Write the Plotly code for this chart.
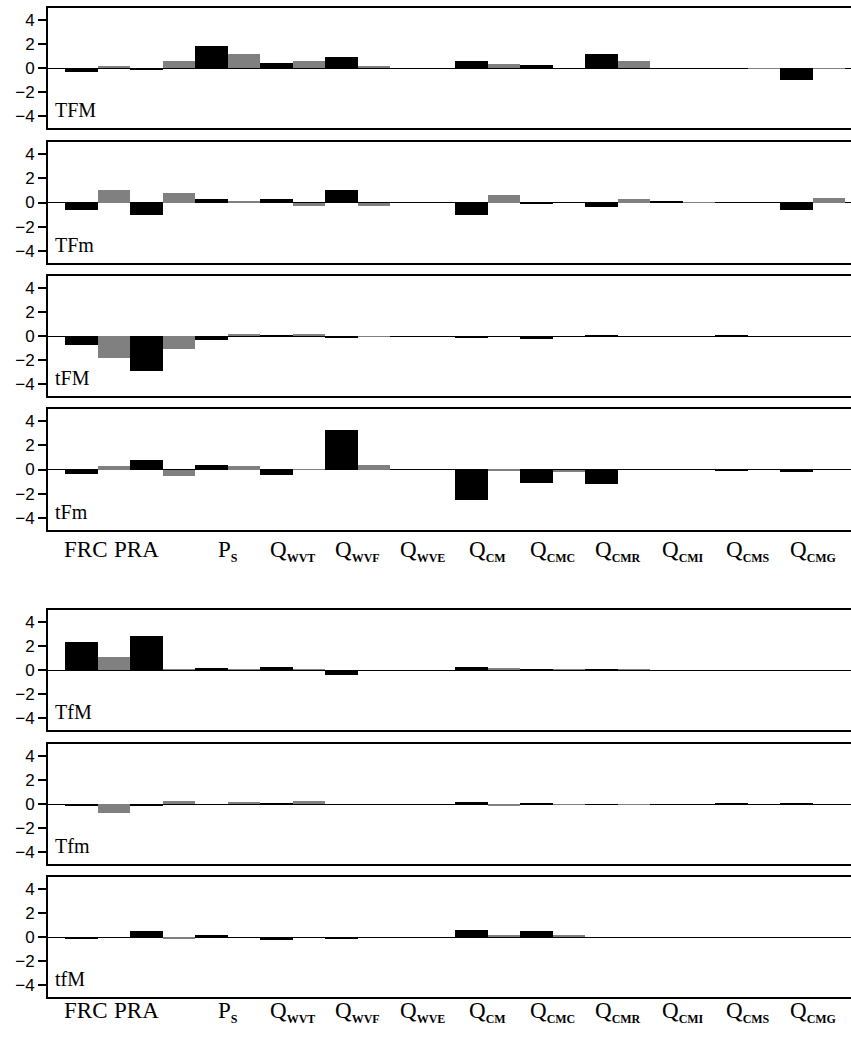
import plotly.graph_objects as go
from plotly.subplots import make_subplots

# Budget terms (x categories) and their rendered labels
categories = ["FRC", "PRA", "PS", "QWVT", "QWVF", "QWVE",
              "QCM", "QCMC", "QCMR", "QCMI", "QCMS", "QCMG"]


def sub(base, s):
    return base + '<sub><b><span style="font-size:12px">' + s + '</span></b></sub>'


tick_labels = ["FRC", "PRA", sub("P", "S"), sub("Q", "WVT"), sub("Q", "WVF"),
               sub("Q", "WVE"), sub("Q", "CM"), sub("Q", "CMC"), sub("Q", "CMR"),
               sub("Q", "CMI"), sub("Q", "CMS"), sub("Q", "CMG")]

panel_names = ["TFM", "TFm", "tFM", "tFm", "TfM", "Tfm", "tfM"]

# first series (black)
TFM_a = [-0.35, -0.10, 1.87, 0.38, 0.88, 0.0, 0.60, 0.28, 1.18, 0.0, 0.0, -0.96]
TFm_a = [-0.66, -1.00, 0.25, 0.33, 1.00, 0.0, -1.07, -0.14, -0.41, 0.08, 0.0, -0.58]
tFM_a = [-0.74, -2.90, -0.33, 0.04, -0.14, 0.0, -0.17, -0.25, 0.08, -0.05, 0.05, -0.05]
tFm_a = [-0.36, 0.80, 0.39, -0.44, 3.28, 0.0, -2.50, -1.10, -1.18, 0.0, -0.08, -0.17]
TfM_a = [2.31, 2.81, 0.17, 0.25, -0.39, 0.0, 0.25, 0.06, 0.05, 0.0, 0.0, 0.0]
Tfm_a = [-0.15, -0.15, -0.05, 0.05, -0.08, 0.0, 0.14, 0.03, 0.0, 0.0, 0.03, 0.03]
tfM_a = [-0.20, 0.50, 0.11, -0.28, -0.19, 0.0, 0.55, 0.47, 0.0, 0.0, 0.0, 0.0]

# second series (gray)
TFM_b = [0.20, 0.60, 1.20, 0.60, 0.20, 0.0, 0.36, 0.0, 0.60, 0.0, -0.03, -0.05]
TFm_b = [1.00, 0.77, 0.15, -0.25, -0.33, 0.0, 0.66, 0.0, 0.33, 0.02, 0.0, 0.41]
tFM_b = [-1.82, -1.07, 0.15, 0.15, -0.03, 0.0, 0.0, 0.0, 0.0, 0.0, 0.0, 0.0]
tFm_b = [0.25, -0.52, 0.25, -0.03, 0.39, 0.0, -0.08, -0.17, 0.0, 0.0, 0.0, 0.0]
TfM_b = [1.05, 0.03, 0.05, 0.02, 0.0, 0.0, 0.14, 0.03, 0.03, 0.0, 0.0, 0.0]
Tfm_b = [-0.74, 0.22, 0.12, 0.22, 0.0, 0.0, -0.15, -0.03, -0.03, 0.0, 0.0, 0.0]
tfM_b = [0.0, -0.19, 0.0, 0.0, 0.0, 0.0, 0.10, 0.10, 0.0, 0.0, 0.0, 0.0]

series_a = [TFM_a, TFm_a, tFM_a, tFm_a, TfM_a, Tfm_a, tfM_a]
series_b = [TFM_b, TFm_b, tFM_b, tFm_b, TfM_b, Tfm_b, tfM_b]

W, H = 851, 1037
LEFT = 48
# panel (top, bottom) in pixels
panels_px = [(8, 128), (142, 263), (276, 396), (409, 530),
             (610, 730), (744, 864), (877, 997)]

fig = make_subplots(rows=7, cols=1)

for i, (a, b) in enumerate(zip(series_a, series_b)):
    r = i + 1
    fig.add_trace(go.Bar(x=categories, y=a, marker=dict(color="#000000", line=dict(width=0)),
                         showlegend=False), row=r, col=1)
    fig.add_trace(go.Bar(x=categories, y=b, marker=dict(color="#808080", line=dict(width=0)),
                         showlegend=False), row=r, col=1)

layout_updates = {}
annotations = []
for i, (top, bot) in enumerate(panels_px):
    n = "" if i == 0 else str(i + 1)
    layout_updates["xaxis" + n] = dict(
        domain=[0, 1], range=[-0.765, 11.59], type="category",
        showline=True, mirror=True, linecolor="black", linewidth=2,
        showticklabels=False, ticks="", showgrid=False, zeroline=False,
    )
    layout_updates["yaxis" + n] = dict(
        domain=[1 - bot / H, 1 - top / H], range=[-5, 5],
        tickvals=[-4, -2, 0, 2, 4], ticktext=["\u22124", "\u22122", "0", "2", "4"],
        ticks="outside", ticklen=8, tickwidth=1.5, tickcolor="black",
        tickfont=dict(family="Liberation Sans, Arial", size=17, color="black"),
        showline=True, mirror=False, linecolor="black", linewidth=2,
        showgrid=False, zeroline=True, zerolinecolor="black", zerolinewidth=1,
    )
    annotations.append(dict(
        text=panel_names[i], xref="x%s domain" % n, yref="y%s domain" % n,
        x=0, y=0, xanchor="left", yanchor="bottom", xshift=5, yshift=5,
        showarrow=False, font=dict(family="Liberation Serif, serif", size=20, color="black"),
    ))

# category labels under the 4th and 7th panels
label_nudge = {"FRC": -12, "PRA": -26}
for axis_n, yshift in (("4", -5), ("7", 1)):
    for c, lab in zip(categories, tick_labels):
        annotations.append(dict(
            text=lab, xref="x" + axis_n, yref="y%s domain" % axis_n,
            x=c, y=0, xanchor="center", yanchor="top",
            xshift=label_nudge.get(c, 0), yshift=yshift, showarrow=False,
            font=dict(family="Liberation Serif, serif", size=23, color="black"),
        ))

fig.update_layout(
    width=W, height=H,
    margin=dict(l=LEFT, r=0, t=0, b=0),
    paper_bgcolor="white", plot_bgcolor="white",
    barmode="group", bargap=0, bargroupgap=0,
    annotations=annotations,
    **layout_updates,
)

fig.write_html("out.html")
